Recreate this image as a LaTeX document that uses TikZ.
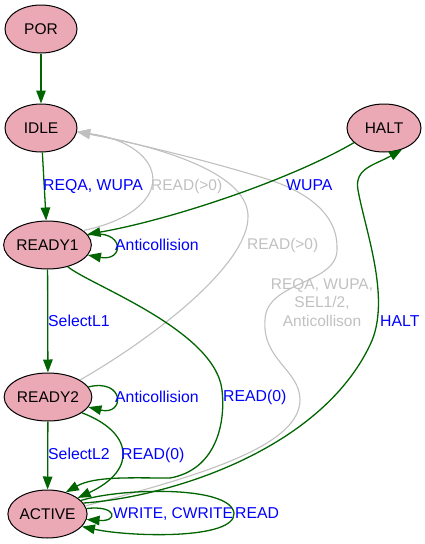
\documentclass[tikz,border=0pt]{standalone}
\usepackage{fontspec}
\setmainfont{Liberation Sans}
\usetikzlibrary{shapes.geometric,arrows.meta}
\definecolor{nodepink}{RGB}{235,168,181}
\definecolor{edgegreen}{RGB}{0,100,0}
\definecolor{edgegray}{RGB}{192,192,192}
\definecolor{lblblue}{RGB}{0,0,255}
\newcommand{\lblfont}{\fontsize{15.8}{18.5}\selectfont}
\newcommand{\nodefont}{\fontsize{15.5}{18.5}\selectfont}
\begin{document}
\begin{tikzpicture}[x=1pt,y=-1pt,
  state/.style={ellipse,draw=black,line width=1pt,fill=nodepink,minimum height=48pt,inner sep=0pt,font=\nodefont},
  ge/.style={color=edgegreen,line width=1.3pt,-{Triangle[length=13pt,width=9.5pt]}},
  gr/.style={color=edgegray,line width=1.1pt,-{Triangle[length=13pt,width=9.5pt]}},
  bl/.style={text=lblblue,font=\lblfont,inner sep=0pt,text height=11pt,text depth=0pt,anchor=west},
  gl/.style={bl,text=edgegray,font=\nodefont}]
\useasboundingbox (0,0) rectangle (425,544);

\node[state,minimum width=72pt] (POR) at (41,29) {POR};
\node[state,minimum width=72pt] (IDLE) at (41,128) {IDLE};
\node[state,minimum width=74pt] (HALT) at (384,128) {HALT};
\node[state,minimum width=85pt] (R1) at (47.5,245) {READY1};
\node[state,minimum width=86pt] (R2) at (48,397) {READY2};
\node[state,minimum width=79pt] (ACT) at (47.5,514) {ACTIVE};

% gray edges to IDLE
\draw[gr] (R1.22) .. controls (180,210) and (170,145) .. (IDLE.-6);
\draw[gr] (R2.28) .. controls (150,340) and (250,265) .. (248,215)
  .. controls (246,170) and (150,145) .. (IDLE.-6);
\draw[gr] (ACT.12) .. controls (180,480) and (300,450) .. (300,400)
  .. controls (300,370) and (262,360) .. (265,320)
  .. controls (266,280) and (340,285) .. (337,247)
  .. controls (337,210) and (300,190) .. (270,180)
  .. controls (200,158) and (120,140) .. (IDLE.-6);

% green edges
\draw[ge] (POR) -- (IDLE);
\draw[ge] (IDLE) -- (R1);
\draw[ge] (HALT.206) .. controls (290,180) and (170,220) .. (R1.15);
\draw[ge] (R1.14) .. controls (125,228) and (125,262) .. (R1.-14);
\draw[ge] (R1) -- (R2);
\draw[ge] (R1.-47) .. controls (90,285) and (215,330) .. (222,390)
  .. controls (226,425) and (215,470) .. (170,478)
  .. controls (130,478) and (95,476) .. (ACT.50);
\draw[ge] (R2.14) .. controls (125,378) and (125,416) .. (R2.-14);
\draw[ge] (R2) -- (ACT);
\draw[ge] (R2.-25) .. controls (133,432) and (138,470) .. (ACT.28);
\draw[ge] (ACT.8) .. controls (118,505) and (118,522) .. (ACT.-8);
\draw[ge] (ACT.22) .. controls (120,488) and (230,485) .. (234,513)
  .. controls (236,540) and (130,537) .. (ACT.-20);
\draw[ge] (ACT.17) .. controls (170,497) and (320,450) .. (370,345)
  .. controls (392,300) and (365,230) .. (358,190)
  .. controls (354,168) and (375,165) .. (HALT.-50);

% labels
\node[bl] (l1) at (43,185) {REQA, WUPA};
\node[gl] (l2) at (151,185) {READ(>0)};
\node[bl] (l3) at (286,185) {WUPA};
\node[bl] (l4) at (115,245) {Anticollision};
\node[gl] (l5) at (247,244) {READ(>0)};
\node[bl] (l6) at (48,321) {SelectL1};
\node[gl,anchor=center,align=center] (l7) at (322,320.5) {REQA, WUPA,\\SEL1/2,\\Anticollison};
\node[bl] (l8) at (380,321) {HALT};
\node[bl] (l9) at (115,397) {Anticollision};
\node[bl] (l10) at (223,396) {READ(0)};
\node[bl] (l11) at (48,454) {SelectL2};
\node[bl] (l12) at (121,454) {READ(0)};
\node[bl,font=\nodefont] (l13) at (113,513) {WRITE, CWRITE};
\node[bl] (l14) at (235,513) {READ};
\end{tikzpicture}
\end{document}
